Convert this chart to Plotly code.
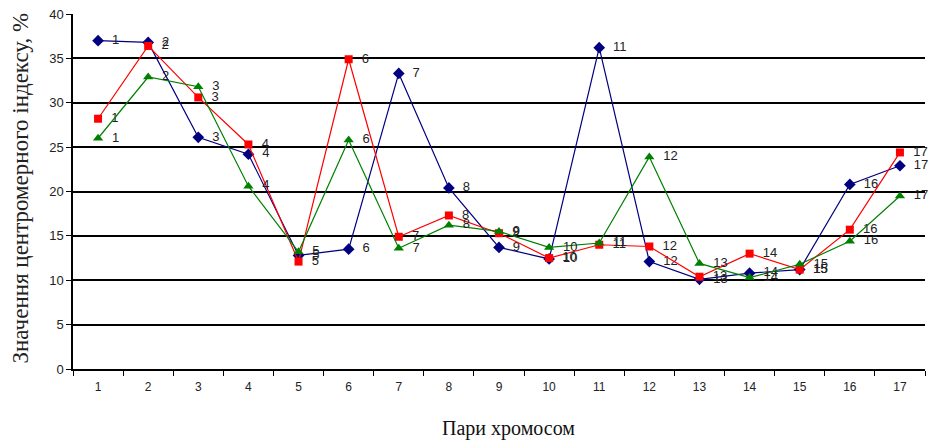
import plotly.graph_objects as go

categories = list(range(1, 18))
tick_labels = [str(c) for c in categories]

series_blue = [37.0, 36.8, 26.1, 24.2, 12.8, 13.5, 33.3, 20.4, 13.7, 12.4, 36.2, 12.1, 10.1, 10.8, 11.2, 20.8, 22.9]
series_red = [28.2, 36.4, 30.6, 25.3, 12.1, 34.9, 14.9, 17.3, 15.3, 12.5, 14.0, 13.8, 10.4, 13.0, 11.2, 15.7, 24.4]
series_green = [26.0, 32.9, 31.8, 20.6, 13.2, 25.8, 13.6, 16.2, 15.5, 13.7, 14.2, 23.9, 11.9, 10.3, 11.8, 14.4, 19.5]

y_ticks = [0, 5, 10, 15, 20, 25, 30, 35, 40]

fig = go.Figure()

def add_series(vals, color, symbol, size):
    fig.add_trace(go.Scatter(
        x=categories, y=vals,
        mode="lines+markers+text",
        line=dict(color=color, width=1.2),
        marker=dict(symbol=symbol, size=size, color=color),
        text=["  " + str(c) for c in categories],
        textposition="middle right",
        textfont=dict(family="Liberation Sans, Arial", size=13, color="#222222"),
        showlegend=False,
        cliponaxis=False,
        hoverinfo="skip",
    ))

add_series(series_blue, "#000080", "diamond", 9)
add_series(series_red, "#FF0000", "square", 8)
add_series(series_green, "#008000", "triangle-up", 9)

fig.update_layout(
    width=930, height=441,
    margin=dict(l=73, r=5, t=14, b=72, autoexpand=False),
    paper_bgcolor="white",
    plot_bgcolor="white",
    font=dict(family="Liberation Sans, Arial", size=12, color="#222222"),
    xaxis=dict(
        range=[0.5, 17.5],
        tickmode="array", tickvals=categories, ticktext=tick_labels,
        ticks="", showgrid=False, zeroline=False,
        showline=True, linecolor="black", linewidth=1.5,
        tickfont=dict(family="Liberation Sans, Arial", size=12, color="#222222"),
        ticklabelstandoff=6,
        minor=dict(tick0=0.5, dtick=1, ticks="outside", ticklen=5, tickcolor="black", tickwidth=1.2, showgrid=False),
        automargin=False,
        fixedrange=True,
    ),
    yaxis=dict(
        range=[0, 40],
        tickmode="array", tickvals=y_ticks,
        ticks="outside", ticklen=5, tickcolor="black", tickwidth=1.2,
        showgrid=True, gridcolor="black", gridwidth=1.5,
        zeroline=False,
        showline=True, linecolor="black", linewidth=1.5,
        tickfont=dict(family="Liberation Sans, Arial", size=13, color="#222222"),
        ticklabeloverflow="allow",
        automargin=False,
        fixedrange=True,
    ),
    annotations=[
        dict(text="Значення центромерного індексу, %", xref="paper", yref="paper",
             x=0, y=0.5, xshift=-53, yshift=3, textangle=-90, showarrow=False,
             xanchor="center", yanchor="middle",
             font=dict(family="Liberation Serif, Times New Roman", size=23, color="#222222")),
        dict(text="Пари хромосом", xref="paper", yref="paper",
             x=0.5, y=0, xshift=9, yshift=-59, showarrow=False,
             xanchor="center", yanchor="middle",
             font=dict(family="Liberation Serif, Times New Roman", size=20, color="#111111")),
    ],
)

fig.write_html(
    "out.html",
    config={"displayModeBar": False},
    post_script="document.body.style.margin='0';document.body.style.overflow='hidden';",
)
